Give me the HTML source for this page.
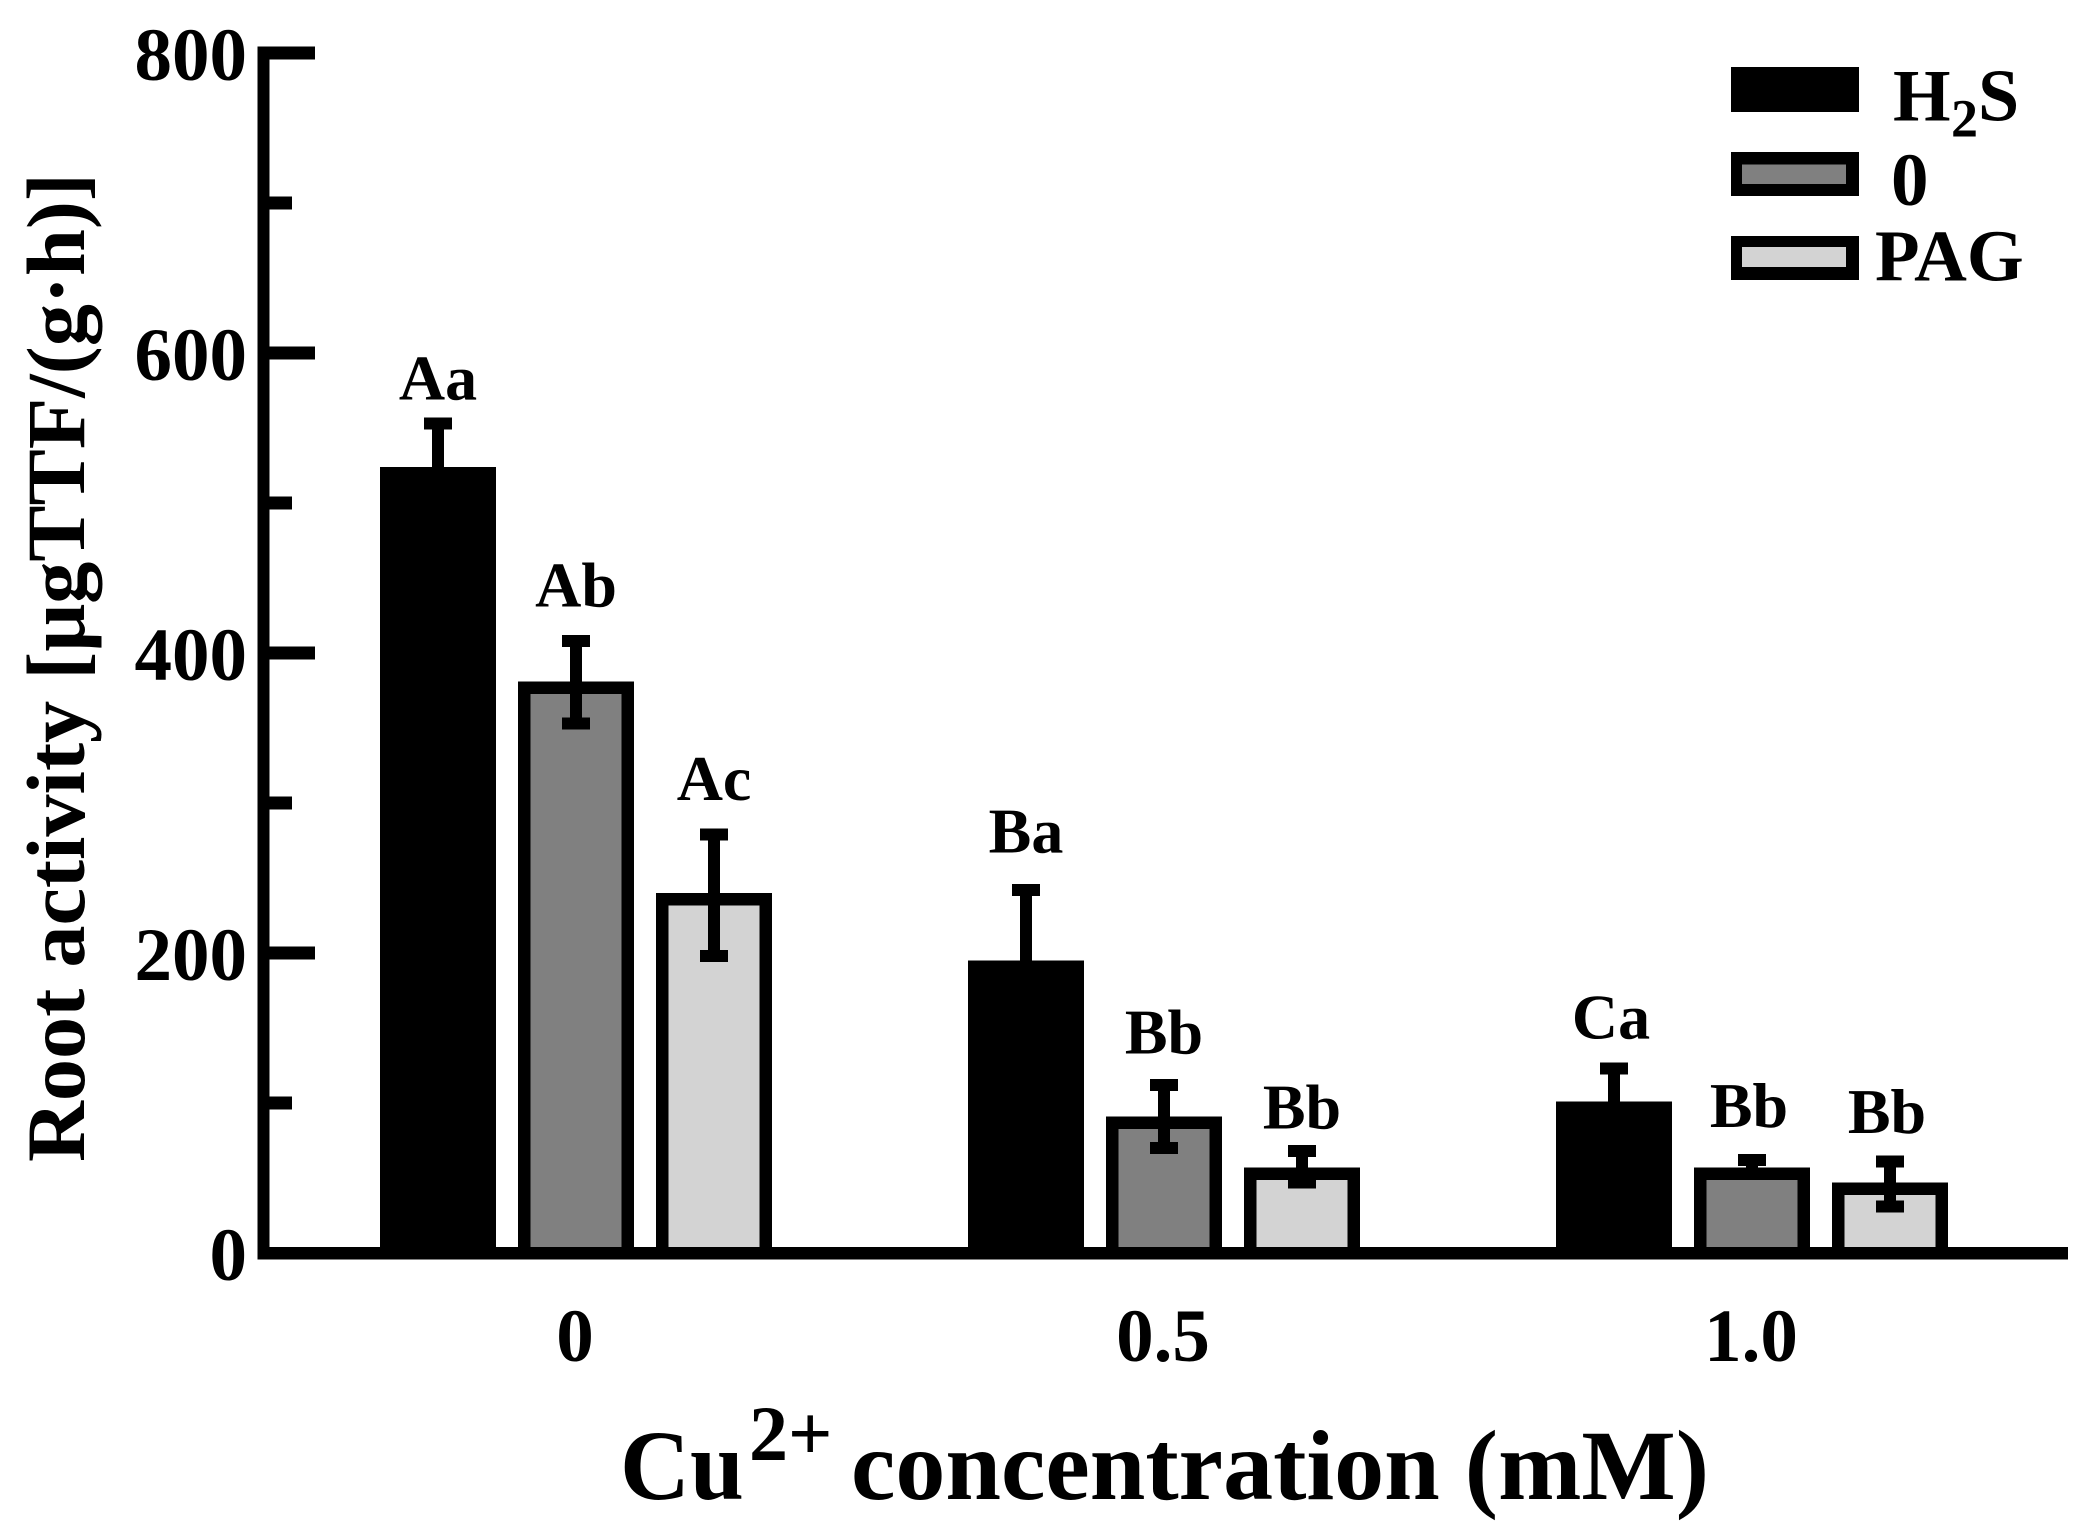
<!DOCTYPE html>
<html>
<head>
<meta charset="utf-8">
<style>
html,body{margin:0;padding:0;background:#fff;}
svg{display:block;}
text{font-family:"Liberation Serif",serif;font-weight:bold;fill:#000;}
</style>
</head>
<body>
<svg id="chart" xmlns="http://www.w3.org/2000/svg" width="2087" height="1536" viewBox="0 0 2087 1536">
<rect x="0" y="0" width="2087" height="1536" fill="#fff"/>
<g id="bars"></g>
<g id="errors"></g>
<g id="letters"></g>
<g id="axes"></g>
<text transform="rotate(-90 84 1162)" x="84" y="1162" font-size="83" textLength="989" lengthAdjust="spacingAndGlyphs">Root activity [μgTTF/(g·h)]</text>
<text x="620" y="1499" font-size="100" textLength="124" lengthAdjust="spacingAndGlyphs">Cu</text>
<text x="749" y="1460" font-size="78">2+</text>
<text x="851" y="1499" font-size="100">concentration (mM)</text>
<g>
  <rect x="1731" y="67" width="128" height="45" fill="#000"/>
  <text x="1893" y="120.5" font-size="74">H</text>
  <text x="1951" y="136.5" font-size="54">2</text>
  <text x="1978" y="120.5" font-size="74">S</text>
  <rect x="1731" y="152" width="128" height="44" fill="#000"/>
  <rect x="1742" y="164.5" width="104" height="19.5" fill="#808080"/>
  <text x="1891" y="205" font-size="75">0</text>
  <rect x="1731" y="236" width="128" height="44" fill="#000"/>
  <rect x="1742" y="247" width="104" height="20" fill="#d3d3d3"/>
  <text x="1875" y="280.5" font-size="73">PAG</text>
</g>
</svg>
<script>
var categories = ['0', '0.5', '1.0'];
var seriesNames = ['H2S', '0', 'PAG'];
var h2sValues = [524, 195, 101];
var controlValues = [381, 91, 57];
var pagValues = [240, 57, 47];
var h2sErrHigh = [553, 242, 123];
var controlErrHigh = [408, 112, 62];
var pagErrHigh = [279, 68, 61];
var h2sErrLow = [524, 195, 101];
var controlErrLow = [353, 70, 57];
var pagErrLow = [198, 47, 31];
var h2sLetters = ['Aa', 'Ba', 'Ca'];
var controlLetters = ['Ab', 'Bb', 'Bb'];
var pagLetters = ['Ac', 'Bb', 'Bb'];
var h2sLetterHeights = [569, 267, 143];
var controlLetterHeights = [431, 133, 84];
var pagLetterHeights = [302, 83, 80];
var majorTicks = [0, 200, 400, 600, 800];
var minorTicks = [100, 300, 500, 700];

var NS = 'http://www.w3.org/2000/svg';
function yScale(v) { return 1253 - v * 1.5; }
function groupLeft(g) { return 380 + g * 588; }
function barLeft(g, s) { return groupLeft(g) + s * 138; }
function catCenter(g) { return 575 + g * 588; }
function make(tag, parent, props) {
  var el = document.createElementNS(NS, tag);
  for (var k in props) { el.setAttribute(k, props[k]); }
  parent.appendChild(el);
  return el;
}

var barsG = document.getElementById('bars');
var errG = document.getElementById('errors');
var letG = document.getElementById('letters');
var axG = document.getElementById('axes');

var seriesValues = [h2sValues, controlValues, pagValues];
var seriesHigh = [h2sErrHigh, controlErrHigh, pagErrHigh];
var seriesLow = [h2sErrLow, controlErrLow, pagErrLow];
var seriesLetters = [h2sLetters, controlLetters, pagLetters];
var seriesLetterHeights = [h2sLetterHeights, controlLetterHeights, pagLetterHeights];
var seriesFills = ['#000000', '#808080', '#d3d3d3'];
var barW = 116, sw = 12.5, capW = 28, errT = 12;

categories.forEach(function (cat, g) {
  seriesNames.forEach(function (name, s) {
    var x = barLeft(g, s), top = yScale(seriesValues[s][g]), base = yScale(0);
    var bar = make('rect', barsG, {x: x, y: top, width: barW, height: base - top, fill: '#000'});
    
    
    if (s > 0) {
      var inner = make('rect', barsG, {x: x + sw, y: top + sw, width: barW - 2 * sw, height: Math.max(0, base - top - sw), fill: seriesFills[s]});
      
      
    }
    var cx = x + barW / 2;
    var hi = yScale(seriesHigh[s][g]), lo = yScale(seriesLow[s][g]);
    var stem = make('rect', errG, {x: cx - errT / 2, y: hi, width: errT, height: lo - hi, fill: '#000'});
    
    
    var capTop = make('rect', errG, {x: cx - capW / 2, y: hi - errT / 2, width: capW, height: errT, fill: '#000'});
    
    
    if (s > 0 && seriesLow[s][g] < seriesValues[s][g]) {
      var capLow = make('rect', errG, {x: cx - capW / 2, y: lo - errT / 2, width: capW, height: errT, fill: '#000'});
      
      
    }
    var labelShift = g === 2 ? -3 : 0;
    var t = make('text', letG, {x: cx + labelShift, y: yScale(seriesLetterHeights[s][g]), 'font-size': 64, 'text-anchor': 'middle'});
    t.textContent = seriesLetters[s][g];
    
    
  });
  var lab = make('text', axG, {x: catCenter(g), y: 1361, 'font-size': 75, 'text-anchor': 'middle'});
  lab.textContent = cat;
  
  
});

var yAxis = make('rect', axG, {x: 257.5, y: 46.5, width: 12, height: yScale(0) + 6 - 46.5, fill: '#000'});


var xAxis = make('rect', axG, {x: 257.5, y: yScale(0) - 6, width: 2068 - 257.5, height: 12.5, fill: '#000'});



majorTicks.forEach(function (v) {
  var y = yScale(v);
  if (v > 0) {
    var tick = make('rect', axG, {x: 269, y: y - 6.5, width: 46, height: 13, fill: '#000'});
    
    
  }
  var lab = make('text', axG, {x: 247, y: y + 27, 'font-size': 75, 'text-anchor': 'end'});
  lab.textContent = String(v);
  
  
});
minorTicks.forEach(function (v) {
  var tick = make('rect', axG, {x: 269, y: yScale(v) - 6.5, width: 23, height: 13, fill: '#000'});
  
  
});
</script>
</body>
</html>
